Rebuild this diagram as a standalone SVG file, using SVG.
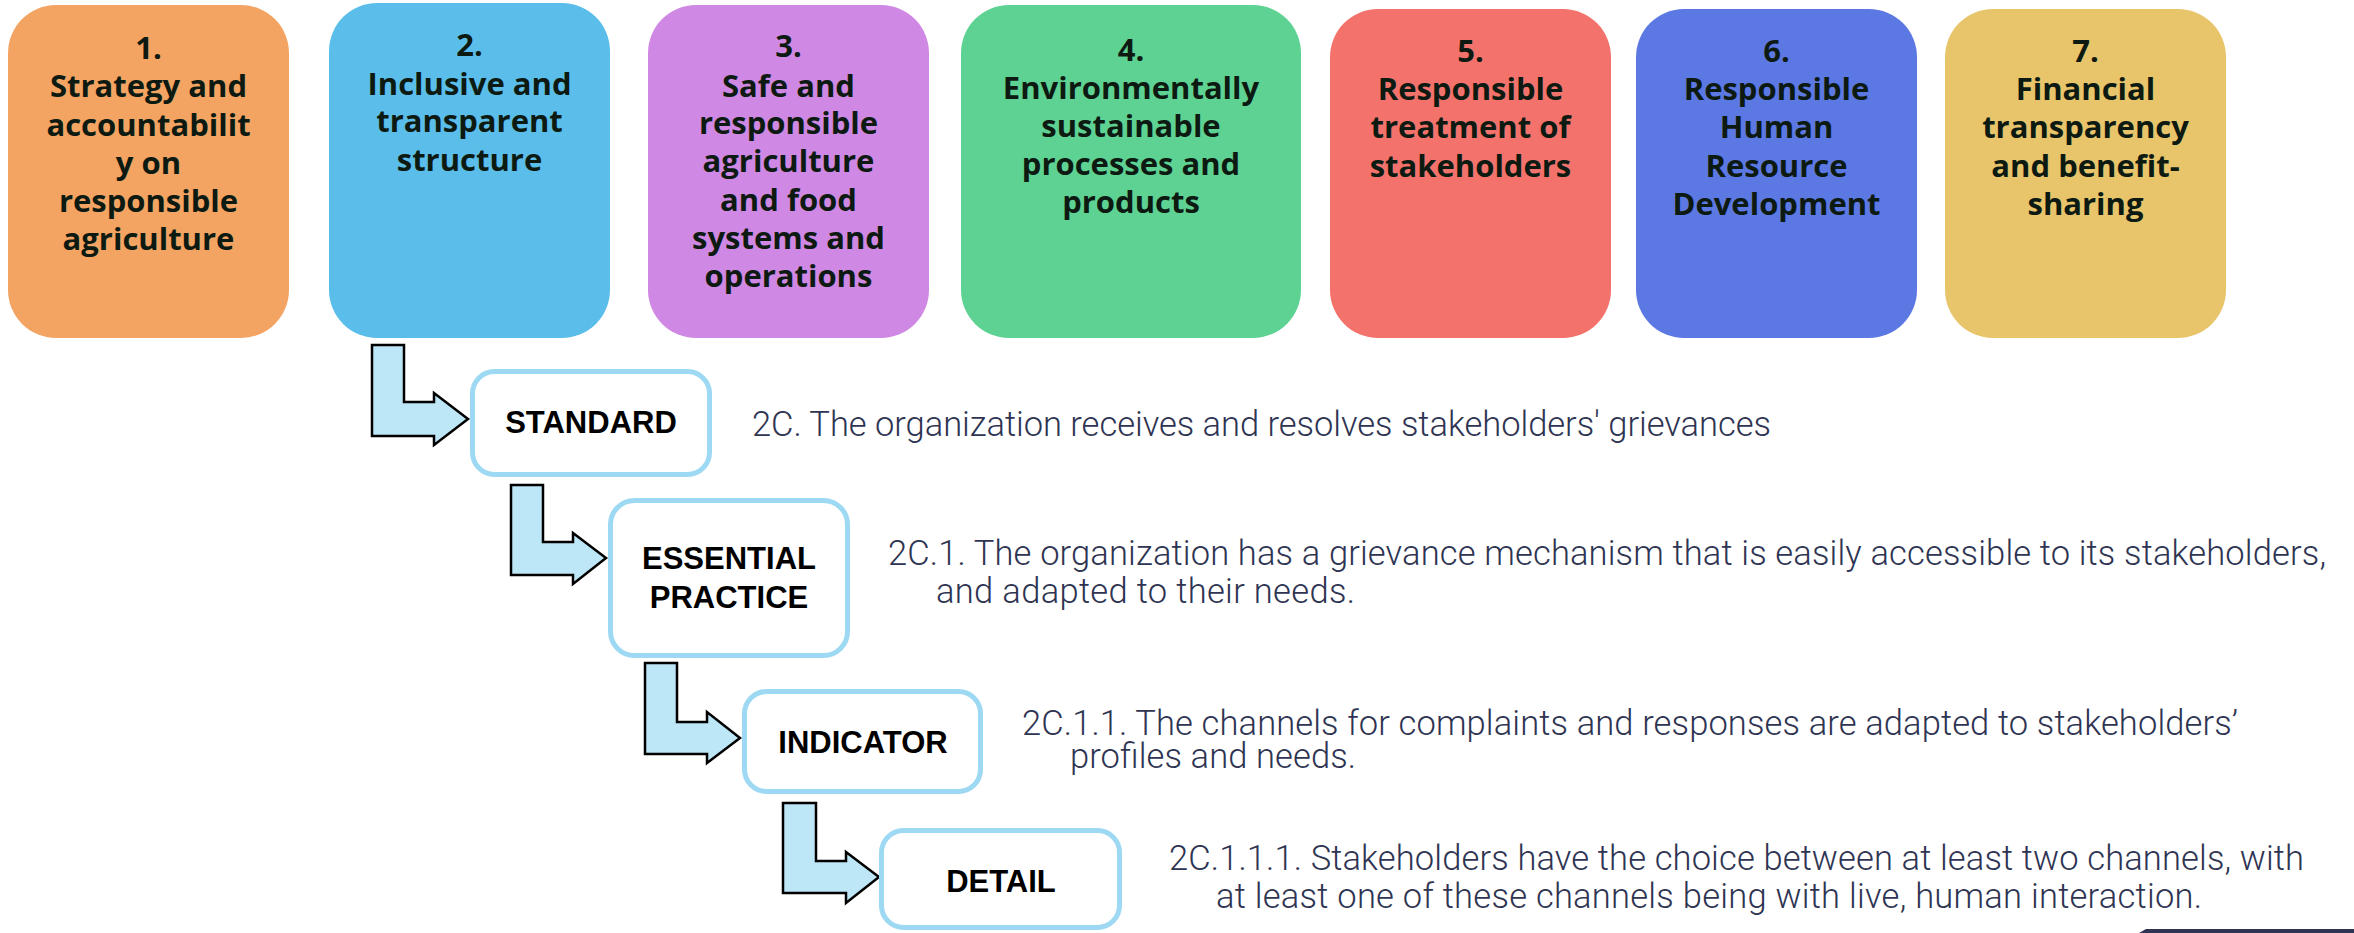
<svg xmlns="http://www.w3.org/2000/svg" width="2354" height="933" viewBox="0 0 2354 933">
<style>
.pillar text{font-family:"Open Sans","Liberation Sans",sans-serif;font-weight:700;font-size:31px;fill:#0d1a12;text-anchor:middle}
.lvl rect{fill:#ffffff;stroke:#9DD9F3;stroke-width:5}
.lvl text.lab{font-family:"Liberation Sans",Arial,sans-serif;font-weight:700;font-size:31px;fill:#000;text-anchor:middle}
.desc{font-family:Roboto,"Liberation Sans",sans-serif;font-weight:300;font-size:34.5px;fill:#2E3452}
.arr{fill:#BDE6F6;stroke:#000;stroke-width:2.5;stroke-linejoin:miter}
</style>
<rect width="2354" height="933" fill="#ffffff"/>
<g id="pillar1" class="pillar"><rect x="8" y="5" width="281" height="333" rx="48" fill="#F3A462"/>
<text x="148.5" y="59">1.</text><text x="148.5" y="97">Strategy and</text><text x="148.5" y="136">accountabilit</text><text x="148.5" y="174">y on</text><text x="148.5" y="212">responsible</text><text x="148.5" y="250">agriculture</text></g>
<g id="pillar2" class="pillar"><rect x="329" y="3" width="281" height="335" rx="48" fill="#5BBEEA"/>
<text x="469.5" y="56">2.</text><text x="469.5" y="95">Inclusive and</text><text x="469.5" y="132">transparent</text><text x="469.5" y="171">structure</text></g>
<g id="pillar3" class="pillar"><rect x="648" y="5" width="281" height="333" rx="48" fill="#CF88E3"/>
<text x="788.5" y="57">3.</text><text x="788.5" y="97">Safe and</text><text x="788.5" y="134">responsible</text><text x="788.5" y="172">agriculture</text><text x="788.5" y="211">and food</text><text x="788.5" y="249">systems and</text><text x="788.5" y="287">operations</text></g>
<g id="pillar4" class="pillar"><rect x="961" y="5" width="340" height="333" rx="48" fill="#5ED293"/>
<text x="1131" y="61">4.</text><text x="1131" y="99">Environmentally</text><text x="1131" y="137">sustainable</text><text x="1131" y="175">processes and</text><text x="1131" y="213">products</text></g>
<g id="pillar5" class="pillar"><rect x="1330" y="9" width="281" height="329" rx="48" fill="#F3736C"/>
<text x="1470.5" y="62">5.</text><text x="1470.5" y="100">Responsible</text><text x="1470.5" y="138">treatment of</text><text x="1470.5" y="177">stakeholders</text></g>
<g id="pillar6" class="pillar"><rect x="1636" y="9" width="281" height="329" rx="48" fill="#5C78E3"/>
<text x="1776.5" y="62">6.</text><text x="1776.5" y="100">Responsible</text><text x="1776.5" y="138">Human</text><text x="1776.5" y="177">Resource</text><text x="1776.5" y="215">Development</text></g>
<g id="pillar7" class="pillar"><rect x="1945" y="9" width="281" height="329" rx="48" fill="#E8C46B"/>
<text x="2085.5" y="62">7.</text><text x="2085.5" y="100">Financial</text><text x="2085.5" y="138">transparency</text><text x="2085.5" y="177">and benefit-</text><text x="2085.5" y="215">sharing</text></g>

<g id="connectors">
<polygon class="arr" points="372,345 404,345 404,402 434,402 434,393 468,419 434,445 434,436 372,436"/>
<polygon class="arr" points="511,485 543,485 543,542 573,542 573,533 606,558 573,584 573,575 511,575"/>
<polygon class="arr" points="645,663 677,663 677,722 707,722 707,712 740,738 707,763 707,754 645,754"/>
<polygon class="arr" points="783,803 816,803 816,861 846,861 846,852 879,877 846,903 846,893 783,893"/>
</g>

<g id="standard" class="lvl"><rect x="472.5" y="371.5" width="237" height="103" rx="22"/><text class="lab" x="591" y="433">STANDARD</text>
<text class="desc" x="752" y="436" textLength="1019" lengthAdjust="spacing">2C. The organization receives and resolves stakeholders' grievances</text></g>
<g id="essential" class="lvl"><rect x="610.5" y="500.5" width="237" height="155" rx="24"/><text class="lab" x="729" y="569">ESSENTIAL</text><text class="lab" x="729" y="608">PRACTICE</text>
<text class="desc" x="888" y="565" textLength="1438" lengthAdjust="spacing">2C.1. The organization has a grievance mechanism that is easily accessible to its stakeholders,</text>
<text class="desc" x="936" y="603" textLength="419" lengthAdjust="spacing">and adapted to their needs.</text></g>
<g id="indicator" class="lvl"><rect x="744.5" y="691.5" width="236" height="100" rx="22"/><text class="lab" x="863" y="753">INDICATOR</text>
<text class="desc" x="1022" y="735" textLength="1216" lengthAdjust="spacing">2C.1.1. The channels for complaints and responses are adapted to stakeholders’</text>
<text class="desc" x="1070" y="768" textLength="286" lengthAdjust="spacing">profiles and needs.</text></g>
<g id="detail" class="lvl"><rect x="881.5" y="830.5" width="238" height="97" rx="22"/><text class="lab" x="1001" y="892">DETAIL</text>
<text class="desc" x="1169" y="870" textLength="1135" lengthAdjust="spacing">2C.1.1.1. Stakeholders have the choice between at least two channels, with</text>
<text class="desc" x="1216" y="908" textLength="986" lengthAdjust="spacing">at least one of these channels being with live, human interaction.</text></g>
<path d="M2139,933 L2146,929 L2354,929 L2354,933 Z" fill="#2E3452"/>
</svg>
